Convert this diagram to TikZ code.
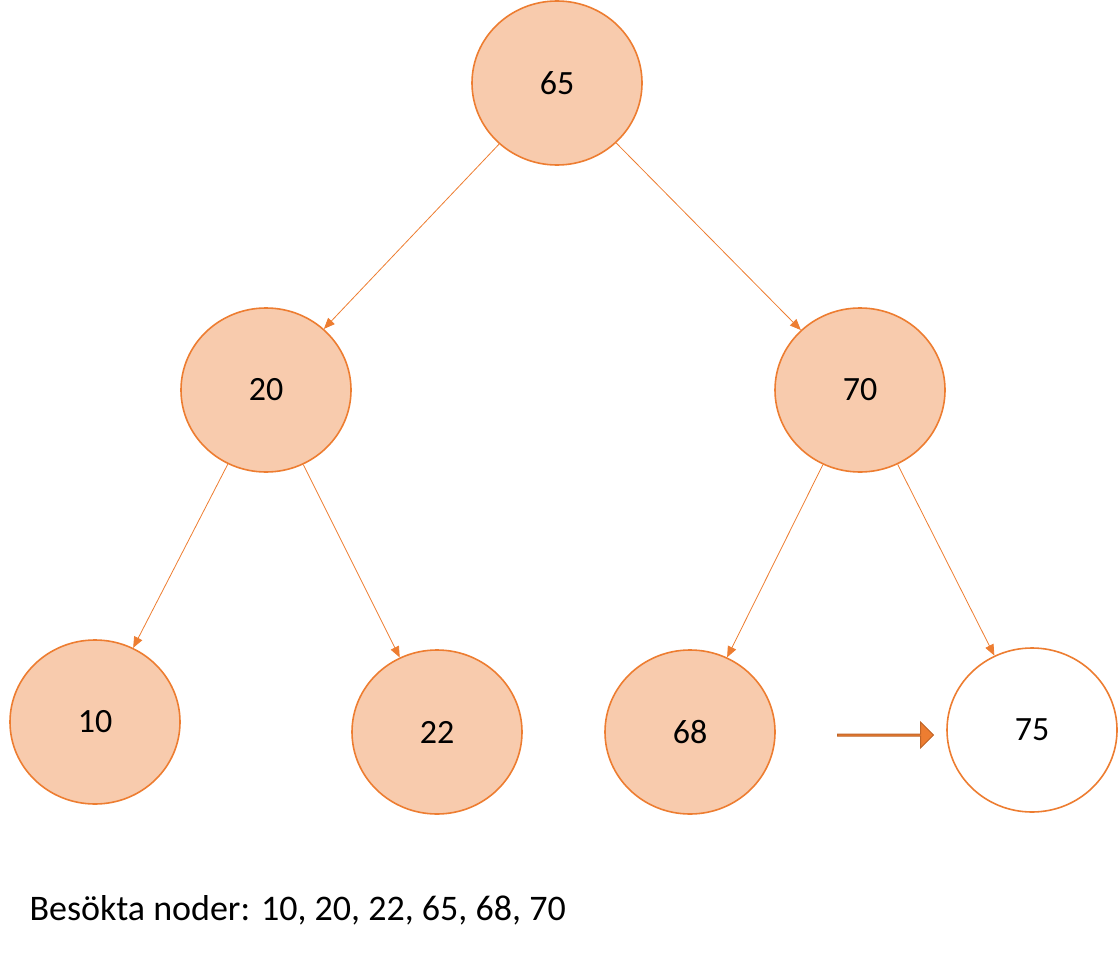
\documentclass[tikz,border=0pt]{standalone}
\usepackage{fontspec}
\setmainfont{Carlito}
\usetikzlibrary{shapes.geometric,shapes.arrows,arrows.meta}
\definecolor{nfill}{HTML}{F8CBAD}
\definecolor{nline}{HTML}{ED7D31}
\begin{document}
\begin{tikzpicture}[x=1pt,y=-1pt,
  tn/.style={ellipse,draw=nline,line width=1.6pt,fill=nfill,minimum width=170pt,minimum height=164pt,inner sep=0pt,font=\fontsize{34}{40}\selectfont},
  wn/.style={tn,fill=white},
  ed/.style={draw=nline,line width=0.8pt,-{Triangle[length=11pt,width=9pt]}}]
\useasboundingbox (0,0) rectangle (1118,960);
\node[tn] (n65) at (557,83) {65};
\node[tn] (n20) at (266,390) {20};
\node[tn] (n70) at (860,390) {70};
\node[tn] (n10) at (95,722) {10};
\node[tn] (n22) at (437,732) {22};
\node[tn] (n68) at (690,732) {68};
\node[wn] (n75) at (1032,730) {75};
\draw[ed] (n65) -- (n20);
\draw[ed] (n65) -- (n70);
\draw[ed] (n20) -- (n10);
\draw[ed] (n20) -- (n22);
\draw[ed] (n70) -- (n68);
\draw[ed] (n70) -- (n75);
\node[single arrow,draw=nline!80!black,fill=nline,line width=1pt,minimum height=96pt,minimum width=26pt,single arrow head extend=6pt,inner sep=0pt] (arr) at (885,735) {};
\node[anchor=west,font=\fontsize{36}{42}\selectfont] (lbl) at (26,910) {Besökta noder: 10, 20, 22, 65, 68, 70};
\end{tikzpicture}
\end{document}
